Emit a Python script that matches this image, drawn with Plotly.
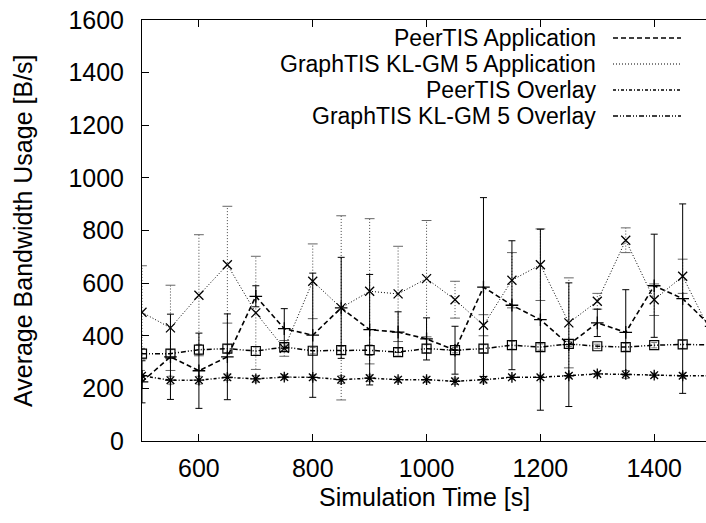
import plotly.graph_objects as go

# ---------------- data ----------------
time_s = [500, 550, 600, 650, 700, 750, 800, 850, 900, 950, 1000,
          1050, 1100, 1150, 1200, 1250, 1300, 1350, 1400, 1450, 1500]

peer_app = [225, 320, 267, 320, 550, 427, 402, 506, 423, 414, 388,
            345, 585, 516, 461, 366, 449, 413, 590, 541, 436]
peer_app_err = [80, 162, 143, 163, 40, 76, 236, 192, 210, 77, 80,
                91, 340, 245, 344, 235, 52, 162, 196, 360, 150]

graph_app = [489, 430, 554, 670, 487, 352, 607, 506, 569, 559, 617,
             537, 440, 611, 670, 449, 531, 763, 537, 626, 411]
graph_app_err = [177, 162, 230, 222, 215, 30, 142, 350, 276, 181, 221,
                 70, 40, 105, 136, 171, 30, 47, 60, 65, 60]

peer_ovl = [248, 231, 231, 242, 236, 243, 242, 233, 239, 233, 233,
            227, 233, 242, 242, 248, 255, 253, 250, 248, 248]
peer_ovl_err = [20, 15, 15, 12, 12, 10, 10, 15, 12, 10, 10,
                12, 12, 8, 8, 8, 8, 15, 8, 10, 10]

graph_ovl = [332, 332, 347, 351, 342, 357, 343, 345, 345, 338, 351,
             345, 351, 364, 357, 369, 360, 357, 364, 367, 365]
graph_ovl_err = [20, 15, 20, 15, 15, 15, 12, 15, 20, 15, 15,
                 10, 15, 15, 12, 10, 8, 15, 10, 15, 10]

series_names = ["PeerTIS Application", "GraphTIS KL-GM 5 Application",
                "PeerTIS Overlay", "GraphTIS KL-GM 5 Overlay"]

x_ticks = [600, 800, 1000, 1200, 1400]
y_ticks = [0, 200, 400, 600, 800, 1000, 1200, 1400, 1600]
x_title = "Simulation Time [s]"
y_title = "Average Bandwidth Usage [B/s]"

# ---------------- styles ----------------
FONT = "Liberation Sans, Arial, Helvetica, sans-serif"
FS = 25
FS_KEY = 23
DASH_PEER_APP = "5px,3px"
DASH_GRAPH_APP = "1px,2px"
DASH_PEER_OVL = "3px,2px,1px,2px"
DASH_GRAPH_OVL = "5px,2px,1px,2px,1px,2px"

fig = go.Figure()

# dotted error bars for GraphTIS application (vertical part + caps)
bx, by, cx, cy = [], [], [], []
for xv, yv, ev in zip(time_s, graph_app, graph_app_err):
    bx += [xv, xv, None]
    by += [yv - ev, yv + ev, None]
    cx += [xv, xv]
    cy += [yv - ev, yv + ev]
fig.add_trace(go.Scatter(x=bx, y=by, mode="lines", showlegend=False,
                         line=dict(color="#444", width=1, dash="1px,2px"),
                         hoverinfo="skip"))
fig.add_trace(go.Scatter(x=cx, y=cy, mode="markers", showlegend=False,
                         marker=dict(symbol="line-ew-open", size=7,
                                     color="#666",
                                     line=dict(color="#666", width=1)),
                         hoverinfo="skip"))

# overlays (gray error bars)
fig.add_trace(go.Scatter(
    x=time_s, y=peer_ovl, name=series_names[2], mode="lines+markers",
    line=dict(color="black", width=1.5, dash=DASH_PEER_OVL),
    marker=dict(symbol="asterisk-open", size=9, color="black",
                line=dict(color="black", width=1.3)),
    error_y=dict(type="data", array=peer_ovl_err, color="#777",
                 thickness=1, width=3),
    showlegend=False))
fig.add_trace(go.Scatter(
    x=time_s, y=graph_ovl, name=series_names[3], mode="lines+markers",
    line=dict(color="black", width=1.5, dash=DASH_GRAPH_OVL),
    marker=dict(symbol="square-open", size=9, color="black",
                line=dict(color="black", width=1.2)),
    error_y=dict(type="data", array=graph_ovl_err, color="#777",
                 thickness=1, width=3),
    showlegend=False))

# applications
fig.add_trace(go.Scatter(
    x=time_s, y=graph_app, name=series_names[1], mode="lines+markers",
    line=dict(color="black", width=1, dash=DASH_GRAPH_APP),
    marker=dict(symbol="x-thin-open", size=9, color="black",
                line=dict(color="black", width=1.3)),
    showlegend=False))
fig.add_trace(go.Scatter(
    x=time_s, y=peer_app, name=series_names[0], mode="lines+markers",
    line=dict(color="black", width=1.6, dash=DASH_PEER_APP),
    marker=dict(symbol="cross-thin-open", size=9, color="black",
                line=dict(color="black", width=1.3)),
    error_y=dict(type="data", array=peer_app_err, color="black",
                 thickness=1, width=3.5),
    showlegend=False))

# ---------------- layout ----------------
W, H = 706, 523
ML, MR, MT, MB = 142, 0, 20, 82
pw, ph = W - ML - MR, H - MT - MB

def px_x(p):
    return (p - ML) / pw

def px_y(p):
    return (H - MB - p) / ph

# custom gnuplot-style key (text right-aligned, sample on the right)
key_rows = [38, 64, 90, 116]
key_dash = [DASH_PEER_APP, DASH_GRAPH_APP, DASH_PEER_OVL, DASH_GRAPH_OVL]
key_width = [1.4, 1, 1.3, 1.3]
annotations = []
shapes = []
for name, ry, dsh, lw in zip(series_names, key_rows, key_dash, key_width):
    annotations.append(dict(
        xref="paper", yref="paper", x=px_x(597), y=px_y(ry),
        xanchor="right", yanchor="middle", showarrow=False, text=name,
        borderpad=0, font=dict(family=FONT, size=FS_KEY, color="black")))
    shapes.append(dict(
        type="line", xref="paper", yref="paper",
        x0=px_x(613), x1=px_x(681), y0=px_y(ry), y1=px_y(ry),
        line=dict(color="black", width=lw, dash=dsh)))

# axis titles
annotations.append(dict(
    xref="paper", yref="paper", x=px_x(424), y=px_y(497),
    xanchor="center", yanchor="middle", showarrow=False, text=x_title,
    font=dict(family=FONT, size=FS, color="black")))
annotations.append(dict(
    xref="paper", yref="paper", x=px_x(23), y=px_y(231),
    xanchor="center", yanchor="middle", showarrow=False, text=y_title,
    textangle=-90, font=dict(family=FONT, size=FS, color="black")))

fig.update_layout(
    width=W, height=H,
    margin=dict(l=ML, r=MR, t=MT, b=MB, pad=0, autoexpand=False),
    paper_bgcolor="white", plot_bgcolor="white",
    font=dict(family=FONT, size=FS, color="black"),
    annotations=annotations, shapes=shapes,
    showlegend=False,
)
fig.update_xaxes(
    range=[500, 1491], tickvals=x_ticks, ticktext=[str(v) for v in x_ticks],
    showgrid=False, zeroline=False, showline=True, linecolor="black",
    linewidth=1, mirror="ticks", ticks="inside", ticklen=7,
    tickcolor="black", tickfont=dict(size=FS), automargin=False,
    ticklabelstandoff=5,
)
fig.update_yaxes(
    range=[0, 1600], tickvals=y_ticks, ticktext=[str(v) for v in y_ticks],
    showgrid=False, zeroline=False, showline=True, linecolor="black",
    linewidth=1, mirror=False, ticks="inside", ticklen=7,
    tickcolor="black", tickfont=dict(size=FS), automargin=False,
    ticklabelstandoff=12,
)

fig.write_html(
    "out.html",
    config={"displayModeBar": False},
    post_script="document.body.style.margin='0';"
                "document.body.style.overflow='hidden';",
)
